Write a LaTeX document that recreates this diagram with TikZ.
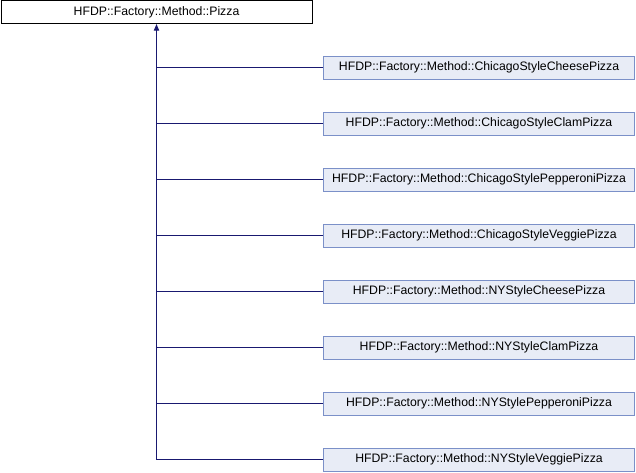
\documentclass[tikz,border=0pt]{standalone}
\usepackage{fontspec}
\setmainfont{Liberation Sans}
\usetikzlibrary{arrows.meta}
\definecolor{edgeblue}{HTML}{191970}
\definecolor{boxfill}{HTML}{E8ECF6}
\definecolor{boxline}{HTML}{7B90C8}
\begin{document}
\begin{tikzpicture}[x=0.75pt,y=-0.75pt,
  base/.style={draw=black,fill=white,line width=0.75pt,minimum width=311*0.75pt,minimum height=23*0.75pt,inner sep=0pt,font=\fontsize{9.2pt}{11pt}\selectfont},
  child/.style={draw=boxline,fill=boxfill,line width=0.75pt,minimum width=311*0.75pt,minimum height=23*0.75pt,inner sep=0pt,font=\fontsize{9.2pt}{11pt}\selectfont},
  edge/.style={draw=edgeblue,line width=0.75pt}]
\useasboundingbox (0,0) rectangle (636,472);
\node[base] (p) at (156.5,12) {HFDP::Factory::Method::Pizza};
\node[child] (c1) at (479,67.5) {HFDP::Factory::Method::ChicagoStyleCheesePizza};
\node[child] (c2) at (479,123.5) {HFDP::Factory::Method::ChicagoStyleClamPizza};
\node[child] (c3) at (479,179.5) {HFDP::Factory::Method::ChicagoStylePepperoniPizza};
\node[child] (c4) at (479,235.5) {HFDP::Factory::Method::ChicagoStyleVeggiePizza};
\node[child] (c5) at (479,291.5) {HFDP::Factory::Method::NYStyleCheesePizza};
\node[child] (c6) at (479,347.5) {HFDP::Factory::Method::NYStyleClamPizza};
\node[child] (c7) at (479,403.5) {HFDP::Factory::Method::NYStylePepperoniPizza};
\node[child] (c8) at (479,459.5) {HFDP::Factory::Method::NYStyleVeggiePizza};
\coordinate (b) at (156.5,459.5);
\draw[edge,-{Triangle[length=5pt,width=4pt]}] (b) -- (p.south);
\foreach \i in {1,...,8}{
  \draw[edge] (c\i.west) -- (c\i.west -| p.south);
}
\end{tikzpicture}
\end{document}
